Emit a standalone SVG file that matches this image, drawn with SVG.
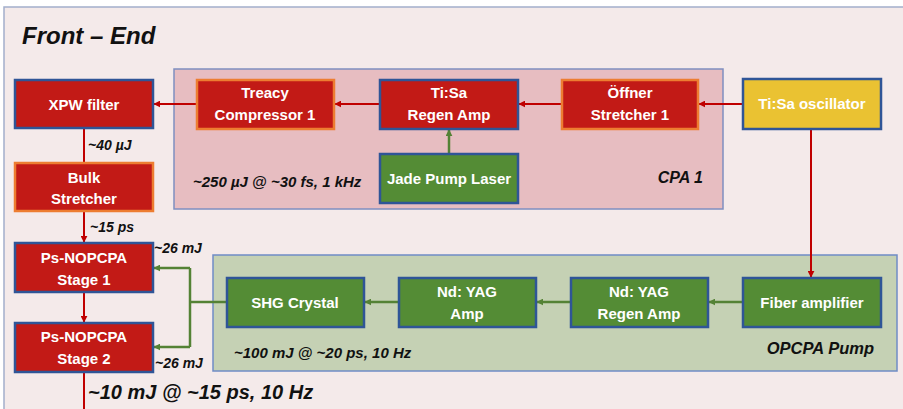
<svg xmlns="http://www.w3.org/2000/svg" width="903" height="409" viewBox="0 0 903 409">
<defs>
<marker id="ar" viewBox="0 0 10 10" refX="9" refY="5" markerWidth="7" markerHeight="7" markerUnits="userSpaceOnUse" orient="auto"><path d="M0,0 L10,5 L0,10 z" fill="#C00000"/></marker>
<marker id="ag" viewBox="0 0 10 10" refX="9" refY="5" markerWidth="7" markerHeight="7" markerUnits="userSpaceOnUse" orient="auto"><path d="M0,0 L10,5 L0,10 z" fill="#548235"/></marker>
<style>
.red{fill:#C21A16;stroke:#2F5597;stroke-width:2.5}
.redo{fill:#C21A16;stroke:#ED7D31;stroke-width:2.5}
.grn{fill:#548C35;stroke:#2F5597;stroke-width:2.5}
.yel{fill:#EAC232;stroke:#2F5597;stroke-width:2.5}
.lbl{font-family:"Liberation Sans",Arial,sans-serif;font-weight:bold;font-size:15px;fill:#FFFFFF;text-anchor:middle}
.ann{font-family:"Liberation Sans",Arial,sans-serif;font-weight:bold;font-style:italic;fill:#111111}
.cr{stroke:#C00000;stroke-width:2;fill:none}
.cg{stroke:#548235;stroke-width:2.5;fill:none}
</style>
</defs>
<rect x="0" y="0" width="903" height="409" fill="#FFFFFF"/>
<rect x="4" y="7" width="910" height="420" fill="#F4EAEA" stroke="#A3AFCB" stroke-width="1.5"/>
<text class="ann" x="22" y="44" font-size="24">Front – End</text>
<g id="cpa1">
<rect x="174" y="69" width="549" height="140" fill="#E7BDC1" stroke="#7F8FC0" stroke-width="1.5"/>
<text class="ann" x="193" y="187" font-size="15">~250 µJ @ ~30 fs, 1 kHz</text>
<text class="ann" x="703" y="183" font-size="16" text-anchor="end">CPA 1</text>
</g>
<g id="opcpa">
<rect x="213" y="255" width="684" height="116" fill="#C5D1B4" stroke="#6F8CC6" stroke-width="1.5"/>
<text class="ann" x="234" y="358" font-size="15">~100 mJ @ ~20 ps, 10 Hz</text>
<text class="ann" x="874" y="354" font-size="16.5" text-anchor="end">OPCPA Pump</text>
</g>
<g id="connectors">
<line class="cr" x1="743" y1="104" x2="699" y2="104" marker-end="url(#ar)"/>
<line class="cr" x1="562" y1="104" x2="519" y2="104" marker-end="url(#ar)"/>
<line class="cr" x1="380" y1="104" x2="335" y2="104" marker-end="url(#ar)"/>
<line class="cr" x1="197" y1="104" x2="154" y2="104" marker-end="url(#ar)"/>
<line class="cg" x1="449" y1="154" x2="449" y2="130" marker-end="url(#ag)"/>
<line class="cr" x1="84" y1="128" x2="84" y2="163"/>
<line class="cr" x1="84" y1="211" x2="84" y2="242" marker-end="url(#ar)"/>
<line class="cr" x1="84" y1="292" x2="84" y2="322" marker-end="url(#ar)"/>
<line class="cr" x1="84" y1="372" x2="84" y2="412"/>
<line class="cr" x1="811" y1="129" x2="811" y2="277" marker-end="url(#ar)"/>
<line class="cg" x1="743" y1="302" x2="709" y2="302" marker-end="url(#ag)"/>
<line class="cg" x1="571" y1="302" x2="537" y2="302" marker-end="url(#ag)"/>
<line class="cg" x1="399" y1="302" x2="365" y2="302" marker-end="url(#ag)"/>
<polyline class="cg" points="227,302 190,302"/>
<polyline class="cg" points="190,268 190,347"/>
<line class="cg" x1="190" y1="268" x2="154" y2="268" marker-end="url(#ag)"/>
<line class="cg" x1="190" y1="347" x2="154" y2="347" marker-end="url(#ag)"/>
</g>
<g id="xpw"><rect class="red" x="15" y="80" width="138" height="48"/><text class="lbl" x="84" y="110">XPW filter</text></g>
<g id="bulk"><rect class="redo" x="15" y="163" width="138" height="48"/><text class="lbl" x="84" y="183">Bulk</text><text class="lbl" x="84" y="204">Stretcher</text></g>
<g id="stage1"><rect class="red" x="15" y="243" width="138" height="49"/><text class="lbl" x="84" y="263">Ps-NOPCPA</text><text class="lbl" x="84" y="285">Stage 1</text></g>
<g id="stage2"><rect class="red" x="15" y="323" width="138" height="49"/><text class="lbl" x="84" y="342">Ps-NOPCPA</text><text class="lbl" x="84" y="364">Stage 2</text></g>
<g id="treacy"><rect class="redo" x="197" y="80" width="137" height="49"/><text class="lbl" x="265" y="98">Treacy</text><text class="lbl" x="265" y="120">Compressor 1</text></g>
<g id="regen"><rect class="red" x="380" y="80" width="138" height="49"/><text class="lbl" x="449" y="98">Ti:Sa</text><text class="lbl" x="449" y="120">Regen Amp</text></g>
<g id="jade"><rect class="grn" x="380" y="154" width="138" height="49"/><text class="lbl" x="449" y="184">Jade Pump Laser</text></g>
<g id="offner"><rect class="redo" x="562" y="80" width="136" height="49"/><text class="lbl" x="630" y="98">Öffner</text><text class="lbl" x="630" y="120">Stretcher 1</text></g>
<g id="osc"><rect class="yel" x="743" y="79" width="138" height="50"/><text class="lbl" x="812" y="109">Ti:Sa oscillator</text></g>
<g id="fiber"><rect class="grn" x="743" y="278" width="138" height="49"/><text class="lbl" x="812" y="308">Fiber amplifier</text></g>
<g id="ndregen"><rect class="grn" x="571" y="278" width="137" height="49"/><text class="lbl" x="639" y="297">Nd: YAG</text><text class="lbl" x="639" y="319">Regen Amp</text></g>
<g id="ndamp"><rect class="grn" x="399" y="278" width="137" height="49"/><text class="lbl" x="467" y="297">Nd: YAG</text><text class="lbl" x="467" y="319">Amp</text></g>
<g id="shg"><rect class="grn" x="227" y="278" width="137" height="49"/><text class="lbl" x="295" y="308">SHG Crystal</text></g>
<text class="ann" x="88" y="150" font-size="14">~40 µJ</text>
<text class="ann" x="90" y="232" font-size="14">~15 ps</text>
<text class="ann" x="154" y="253" font-size="14">~26 mJ</text>
<text class="ann" x="155" y="368" font-size="14">~26 mJ</text>
<text class="ann" x="88" y="399" font-size="20">~10 mJ @ ~15 ps, 10 Hz</text>
</svg>
